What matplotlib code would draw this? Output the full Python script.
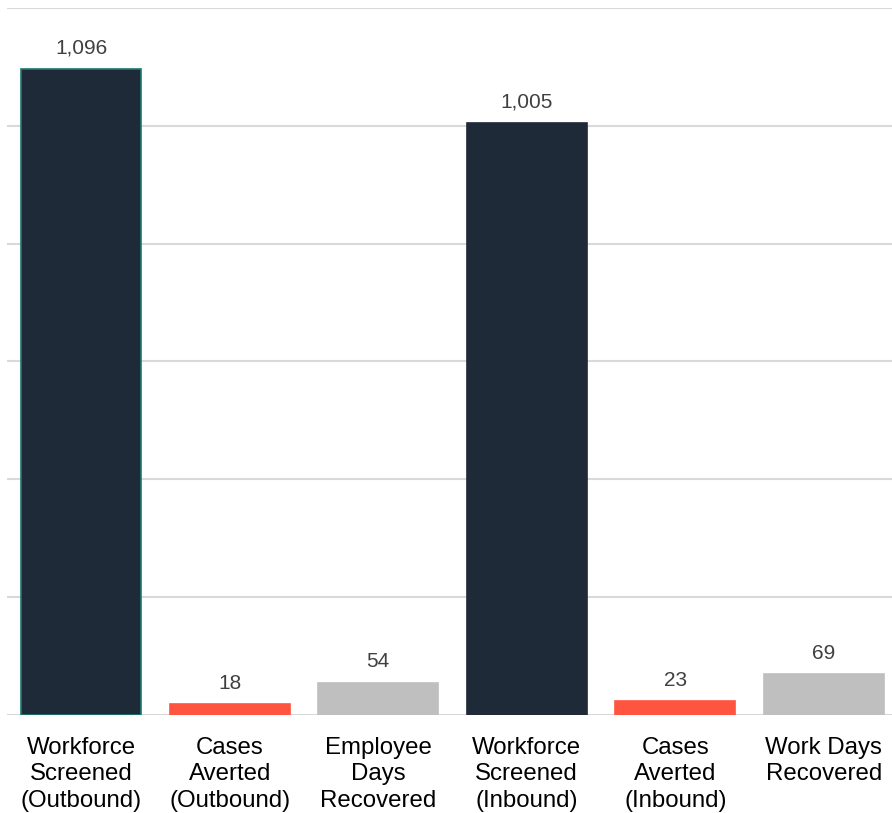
import matplotlib
matplotlib.use('Agg')
import matplotlib.pyplot as plt

# datos del gráfico
categories = ['Workforce\nScreened\n(Outbound)', 'Cases\nAverted\n(Outbound)', 'Employee\nDays\nRecovered',
              'Workforce\nScreened\n(Inbound)', 'Cases\nAverted\n(Inbound)', 'Work Days\nRecovered']
values = [1096, 18, 54, 1005, 23, 69]
colors = ['#1f2a38', '#ff5540', '#bfbfbf', '#1f2a38', '#ff5540', '#bfbfbf']
edges = ['#1a7a70', '#ff5540', '#bfbfbf', '#1f2a38', '#ff5540', '#bfbfbf']

plt.rcParams['font.family'] = ['Liberation Sans', 'DejaVu Sans']

fig = plt.figure(figsize=(8.92, 8.13), dpi=100)
ax = fig.add_axes([7/892, 98/813, 891/892, 707/813])

x = range(len(values))
bars = ax.bar(x, values, width=0.81, color=colors, edgecolor=edges, linewidth=1.2, zorder=3)

for xi, v in zip(x, values):
    ax.text(xi, v + 20, f'{v:,}', ha='center', va='bottom', fontsize=15, color='#404040')

ax.set_xlim(-0.5, 5.5)
ax.set_ylim(0, 1200)
ax.set_yticks(range(0, 1201, 200))
ax.set_yticklabels([])
ax.grid(axis='y', color='#d9d9d9', linewidth=1.5, zorder=0)
ax.set_xticks(list(x))
ax.set_xticklabels(categories, fontsize=17.3, color='#000000', linespacing=1.25)
ax.tick_params(axis='both', length=0)
ax.tick_params(axis='x', pad=16)
for s in ax.spines.values():
    s.set_visible(False)

fig.savefig('out.png', dpi=100)
